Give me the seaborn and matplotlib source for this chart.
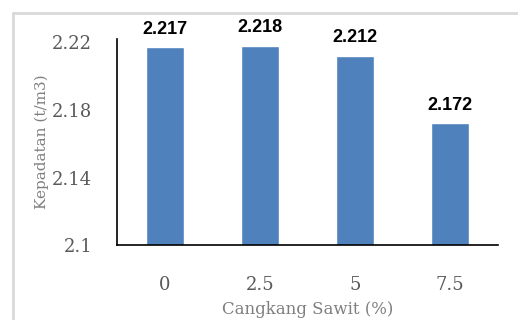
import matplotlib
matplotlib.use("Agg")
import matplotlib.pyplot as plt
import seaborn as sns
import pandas as pd
from matplotlib.lines import Line2D

categories = ["0", "2.5", "5", "7.5"]
values = [2.217, 2.218, 2.212, 2.172]
value_labels = ["2.217", "2.218", "2.212", "2.172"]
yticks = [2.1, 2.14, 2.18, 2.22]
ytick_labels = ["2.1", "2.14", "2.18", "2.22"]

sns.set_style("white")
plt.rcParams['font.family'] = ['DejaVu Serif', 'Liberation Serif']

df = pd.DataFrame({"cat": categories, "val": values})

fig = plt.figure(figsize=(5.18, 3.2), dpi=100)
ax = fig.add_axes([0.226, 0.234, 0.735, 0.644])
sns.barplot(data=df, x="cat", y="val", color="#4f81bd", width=0.4, saturation=1, ax=ax)

ax.set_ylim(2.1, 2.222)
ax.set_yticks(yticks)
ax.set_yticklabels(ytick_labels)
ax.tick_params(axis='both', length=0, colors="#595959", labelsize=13)
ax.tick_params(axis='x', pad=22)
ax.tick_params(axis='y', pad=18)

for sp in ["top", "right"]:
    ax.spines[sp].set_visible(False)
for sp in ["left", "bottom"]:
    ax.spines[sp].set_color("black")
    ax.spines[sp].set_linewidth(1.2)

for i, (v, lab) in enumerate(zip(values, value_labels)):
    ax.annotate(lab, (i, v), xytext=(0, 7), textcoords="offset points",
                ha="center", va="bottom", fontsize=13, fontweight="bold", color="black",
                family=["Liberation Sans", "DejaVu Sans"])

ax.set_xlabel("Cangkang Sawit (%)", fontsize=12, color="#7f7f7f", labelpad=5)
ax.set_ylabel("Kepadatan (t/m3)", fontsize=11, color="#7f7f7f", labelpad=2)

fig.add_artist(Line2D([13/518, 13/518], [0, 1 - 13/320], color="#d9d9d9", lw=2, transform=fig.transFigure))
fig.add_artist(Line2D([13/518, 1], [1 - 13/320, 1 - 13/320], color="#d9d9d9", lw=2, transform=fig.transFigure))

fig.savefig("out.png", dpi=100)
